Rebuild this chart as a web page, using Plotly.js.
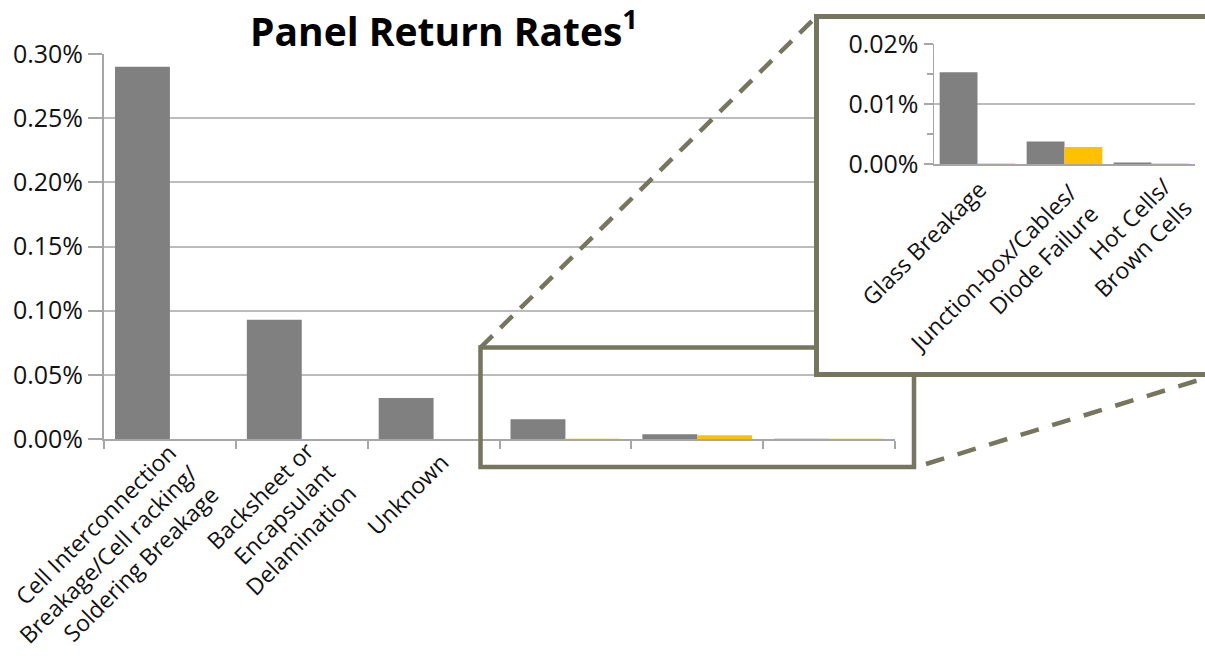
<!DOCTYPE html>
<html>
<head>
<meta charset="utf-8">
<script src="https://cdn.plot.ly/plotly-3.0.1.min.js"></script>
<style>
  html, body { margin: 0; padding: 0; width: 1205px; height: 658px; overflow: hidden; background: #fff; }
  #main { position: absolute; left: 0; top: 0; width: 1205px; height: 658px; }
  #inset { position: absolute; left: 814px; top: 14px; width: 391px; height: 353px;
           border: 5px solid #76765f; background: #fff; }
</style>
</head>
<body>
<div id="main"></div>
<div id="inset"></div>
<script>
// ---- data ----
const categories = [
  "Cell Interconnection Breakage/Cell racking/Soldering Breakage",
  "Backsheet or Encapsulant Delamination",
  "Unknown",
  "Glass Breakage",
  "Junction-box/Cables/Diode Failure",
  "Hot Cells/Brown Cells"
];
const mainTickLabels = [
  "Cell Interconnection<br>Breakage/Cell racking/<br>Soldering Breakage",
  "Backsheet or<br>Encapsulant<br>Delamination",
  "Unknown"
];
const greyValues   = [0.00290, 0.00093, 0.00032, 0.000153, 0.0000375, 0.0000025];
const yellowValues = [0, 0, 0, 0.000001, 0.0000285, 0.000001];

const insetCategories = categories.slice(3);
const insetTickLabels = [
  "Glass Breakage",
  "Junction-box/Cables/<br>Diode Failure",
  "Hot Cells/<br>Brown Cells"
];
const insetGrey = greyValues.slice(3);
const insetYellow = yellowValues.slice(3);

// ---- label placement (pixel nudges of the rotated label centres) ----
const mainLabelShift  = [[-62, -115], [-22, -79], [-26, -55]];
const insetLabelShift = [[-54, -79], [-61, -114], [-19, -73]];

// ---- styles ----
const GREY = "#808080", YELLOW = "#ffc000", FRAME = "#76765f";
const GRID = "#bcbcbc", AXIS = "#a6a6a6";
const FONT = "Open Sans, Noto Sans, sans-serif";

// main plot geometry (px) used only to place the zoom-frame shapes
const L = 104, T = 54, W = 791, H = 385;
const px = x => (x - L) / W;
const py = y => (T + H - y) / H;

// category labels as rotated, right-aligned annotations (x = category index)
function rotatedLabels(texts, shifts, size) {
  return texts.map((t, i) => ({
    text: t, x: i, y: 0, xref: "x", yref: "y",
    xanchor: "center", yanchor: "middle", align: "right",
    textangle: -45, showarrow: false,
    xshift: shifts[i][0], yshift: shifts[i][1],
    font: { size: size, family: FONT, color: "#111" }
  }));
}

const mainTraces = [
  { type: "bar", x: categories, y: greyValues, name: "Grey", marker: { color: GREY }, showlegend: false, hoverinfo: "x+y" },
  { type: "bar", x: categories, y: yellowValues, name: "Yellow", marker: { color: YELLOW }, showlegend: false, hoverinfo: "x+y" }
];

const mainLayout = {
  width: 1205, height: 658,
  margin: { l: L, r: 1205 - L - W, t: T, b: 658 - T - H },
  paper_bgcolor: "#fff", plot_bgcolor: "#fff",
  font: { family: FONT, color: "#111" },
  barmode: "group", bargap: 0.167, bargroupgap: 0,
  title: {
    text: "<b>Panel Return Rates<sup>1</sup></b>",
    font: { size: 39, family: FONT, color: "#000" },
    xref: "container", x: 444 / 1205, xanchor: "center",
    yref: "container", y: 1 - 32 / 658, yanchor: "middle"
  },
  xaxis: {
    type: "category", range: [-0.5, categories.length - 0.5],
    showticklabels: false,
    tickson: "boundaries", ticks: "outside", ticklen: 8, tickwidth: 2, tickcolor: AXIS,
    showline: true, linecolor: AXIS, linewidth: 2,
    showgrid: false
  },
  yaxis: {
    range: [0, 0.003], dtick: 0.0005, tickformat: ".2%",
    ticks: "outside", ticklen: 14, tickwidth: 2, tickcolor: AXIS,
    showline: true, linecolor: AXIS, linewidth: 2,
    gridcolor: GRID, gridwidth: 2, zeroline: false,
    tickfont: { size: 25, family: FONT, color: "#111" }
  },
  annotations: rotatedLabels(mainTickLabels, mainLabelShift, 23),
  shapes: [
    { type: "rect", xref: "paper", yref: "paper", layer: "above",
      x0: px(480.5), x1: px(914), y0: py(347.5), y1: py(467),
      line: { color: FRAME, width: 4.5 }, fillcolor: "rgba(0,0,0,0)" },
    { type: "line", xref: "paper", yref: "paper", layer: "above",
      x0: px(480.5), y0: py(347.5), x1: px(817), y1: py(16),
      line: { color: FRAME, width: 4.5, dash: "17px,11px" } },
    { type: "line", xref: "paper", yref: "paper", layer: "above",
      x0: px(926), y0: py(464), x1: px(1212), y1: py(376),
      line: { color: FRAME, width: 4.5, dash: "19px,14px" } }
  ]
};

Plotly.newPlot("main", mainTraces, mainLayout, { staticPlot: true, displayModeBar: false });

// ---- inset ----
const insetTraces = [
  { type: "bar", x: insetCategories, y: insetGrey, name: "Grey", marker: { color: GREY }, showlegend: false },
  { type: "bar", x: insetCategories, y: insetYellow, name: "Yellow", marker: { color: YELLOW }, showlegend: false }
];
const insetLayout = {
  width: 391, height: 353,
  margin: { l: 115, r: 15, t: 25, b: 208 },
  paper_bgcolor: "#fff", plot_bgcolor: "#fff",
  font: { family: FONT, color: "#111" },
  barmode: "group", bargap: 0.13, bargroupgap: 0,
  xaxis: {
    type: "category", range: [-0.5, insetCategories.length - 0.5],
    showticklabels: false,
    ticks: "", showline: true, linecolor: AXIS, linewidth: 2,
    showgrid: false
  },
  yaxis: {
    range: [0, 0.0002], dtick: 0.0001, tickformat: ".2%",
    ticks: "outside", ticklen: 9, tickwidth: 1.5, tickcolor: AXIS,
    minor: { dtick: 0.00005, ticks: "outside", ticklen: 6, tickcolor: AXIS, showgrid: false },
    showline: true, linecolor: AXIS, linewidth: 1.5,
    gridcolor: GRID, gridwidth: 1.5, zeroline: false,
    tickfont: { size: 25, family: FONT, color: "#111" }
  },
  annotations: rotatedLabels(insetTickLabels, insetLabelShift, 23)
};
Plotly.newPlot("inset", insetTraces, insetLayout, { staticPlot: true, displayModeBar: false });
</script>
</body>
</html>
